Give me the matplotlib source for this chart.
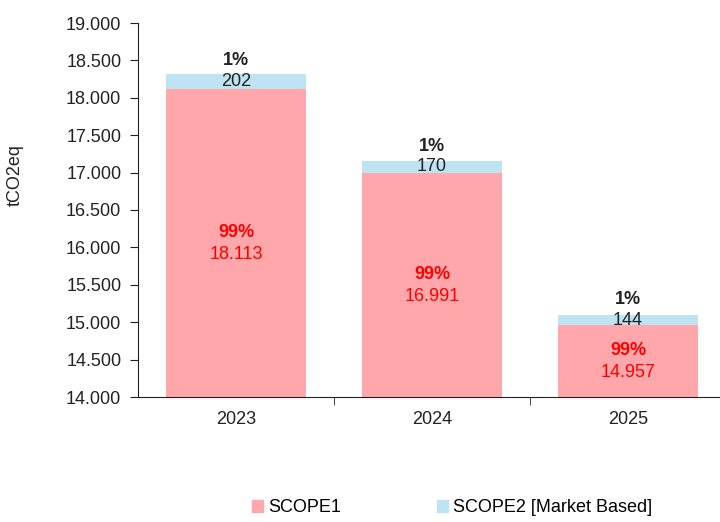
import matplotlib
matplotlib.use("Agg")
import matplotlib.pyplot as plt
from matplotlib.patches import Patch
from matplotlib.ticker import FuncFormatter

years = ["2023", "2024", "2025"]
scope1 = [18113, 16991, 14957]
scope2 = [202, 170, 144]
scope1_pct = ["99%", "99%", "99%"]
scope2_pct = ["1%", "1%", "1%"]

PINK = "#FFA7AB"
BLUE = "#BEE3F2"
RED = "#FF0000"
DARK = "#222222"

plt.rcParams["font.family"] = ["Liberation Sans", "DejaVu Sans"]


def dotted(v, _=None):
    return f"{v:,.0f}".replace(",", ".")


fig = plt.figure(figsize=(7.2, 5.22), dpi=100)
ax = fig.add_axes([138 / 720, 1 - 397 / 522, 588 / 720, 374 / 522])

x = range(len(years))
ax.bar(x, scope1, width=0.71, color=PINK, label="SCOPE1")
ax.bar(x, scope2, width=0.71, bottom=scope1, color=BLUE,
       label="SCOPE2 [Market Based]")

ax.set_xlim(-0.5, 2.5)
ax.set_ylim(14000, 19000)
ax.set_yticks(range(14000, 19001, 500))
ax.yaxis.set_major_formatter(FuncFormatter(dotted))
ax.set_xticks(list(x))
ax.set_xticklabels(years)
ax.set_xticks([0.5, 1.5, 2.5], minor=True)
ax.tick_params(axis="x", which="major", length=0, labelsize=13, pad=10,
               colors=DARK)
ax.tick_params(axis="x", which="minor", length=6, direction="out",
               color=DARK)
ax.tick_params(axis="y", length=6, direction="out", labelsize=13,
               colors=DARK, pad=6)
ax.spines[["top", "right"]].set_visible(False)
for s in ("left", "bottom"):
    ax.spines[s].set_color(DARK)
ax.set_ylabel("tCO2eq", fontsize=13, color=DARK)
ax.yaxis.set_label_coords(-0.209, 0.594)
ax.yaxis.label.set_va("center")

for i in x:
    ymin = ax.get_ylim()[0]
    mid1 = (max(scope1[i], ymin) + ymin) / 2
    ax.annotate(scope1_pct[i], (i, mid1), xytext=(0, 8),
                textcoords="offset points", ha="center", va="center",
                fontsize=13, fontweight="bold", color=RED)
    ax.annotate(dotted(scope1[i]), (i, mid1), xytext=(0, -8),
                textcoords="offset points", ha="center", va="center",
                fontsize=13, color=RED)
    mid2 = scope1[i] + scope2[i] / 2
    ax.annotate(dotted(scope2[i]), (i, mid2), ha="center", va="center",
                fontsize=13, color=DARK)
    ax.annotate(scope2_pct[i], (i, mid2), xytext=(0, 15),
                textcoords="offset points", ha="center", va="center",
                fontsize=13, fontweight="bold", color=DARK)

handles = [Patch(color=PINK, label="SCOPE1"),
           Patch(color=BLUE, label="SCOPE2 [Market Based]")]
fig.legend(handles=handles, loc="center", bbox_to_anchor=(452 / 720, 0.027),
           ncol=2, frameon=False, fontsize=13, handlelength=0.6,
           handleheight=0.6, handletextpad=0.3, columnspacing=5.3)

fig.savefig("out.png", dpi=100)
